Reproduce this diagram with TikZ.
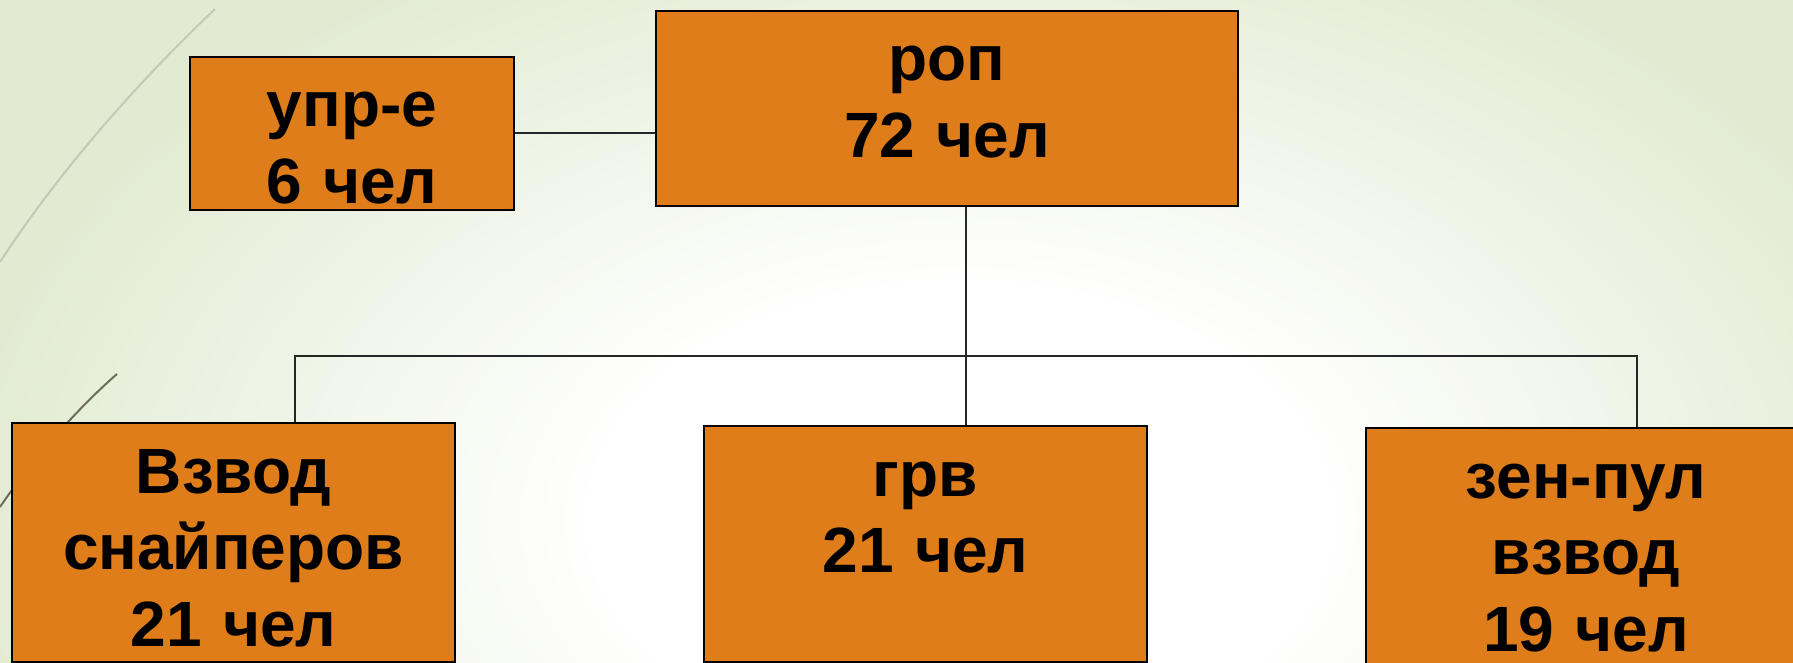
\documentclass[tikz,border=0pt]{standalone}
\usepackage{fontspec}
\setmainfont{Liberation Sans}
\usetikzlibrary{
  calc,
}
\definecolor{boxorange}{RGB}{222,125,25}
\definecolor{slidegreen}{RGB}{226,235,210}
\definecolor{arclight}{RGB}{196,200,182}
\definecolor{arcdark}{RGB}{110,108,92}
% White in the middle of the slide, green towards its edges
\pgfdeclareradialshading{slide shading}{\pgfpoint{0bp}{0bp}}{%
  color(0bp)=(white); color(9bp)=(white);
  color(25bp)=(slidegreen); color(50bp)=(slidegreen)}
\def\mytextheight{35pt}
\tikzset{
  my box/.style={
    draw=black,
    line width=1pt,
    fill=boxorange,
    rectangle,
    inner sep=0pt,
    anchor=north west,
    align=center,
    text height=\mytextheight,
    font=\fontsize{32}{38.25}\selectfont\bfseries
  },
  my link/.style={
    draw=black!85,
    line width=1pt
  },
  my arc/.style={
    line width=1pt
  }
}

\begin{document}
\begin{tikzpicture}[x=0.5pt,y=-0.5pt]
\useasboundingbox (0,0) rectangle (1793,663);
\fill[slidegreen] (0,0) rectangle (1793,663);
\shade[shading=slide shading] (960,520) ellipse [x radius=1000, y radius=640];
\draw[my arc,arclight] (0,262) .. controls (60,170) and (140,80) .. (215,9);
\draw[my arc,arcdark] (0,507) .. controls (25,470) and (70,415) .. (117,374);

\node[my box,text width=291pt,text depth=62.5pt] (rop)  at (655,10)  {роп\\72 чел};
\node[my box,text width=162pt,text depth=41.5pt] (upr)  at (189,56)  {упр-е\\6 чел};
\node[my box,text width=221.5pt,text depth=84.5pt] (snip) at (11,422)  {Взвод\\снайперов\\21 чел};
\node[my box,text width=221.5pt,text depth=83pt] (grv)  at (703,425) {грв\\21 чел};
\node[my box,text width=220pt,text depth=86.5pt] (zen)  at (1365,427) {зен-пул\\взвод\\19 чел};

\coordinate (trunk) at (966,356);
\coordinate (busL)  at (295,356);
\coordinate (busR)  at (1637,356);

\draw[my link] (upr.east) -- (upr.east -| rop.west);
\draw[my link] (trunk |- rop.south) -- (trunk |- grv.north);
\draw[my link] (busL |- snip.north) -- (busL) -- (busR) -- (busR |- zen.north);
\end{tikzpicture}
\end{document}
